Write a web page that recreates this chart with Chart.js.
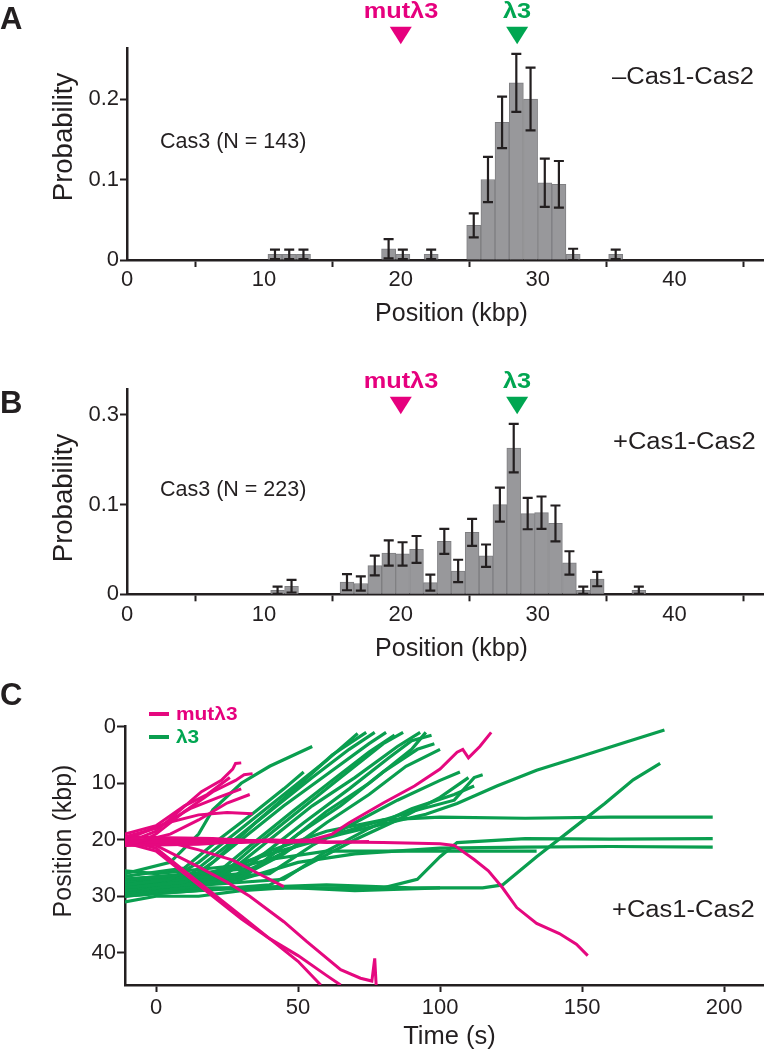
<!DOCTYPE html>
<html lang="en">
<head>
<meta charset="UTF-8">
<title>Cas3 binding positions</title>
<script src="https://cdn.jsdelivr.net/npm/chart.js"></script>
<style>
  body { margin: 0; width: 764px; height: 1050px; position: relative; overflow: hidden; background: #fff;
         font-family: "Liberation Sans", Arial, sans-serif; color: #231f20; }
  canvas { position: absolute; left: 0; }
  .t { position: absolute; line-height: 1; white-space: nowrap; }
  .letter { font-weight: bold; font-size: 31px; }
  .tag { font-weight: bold; font-size: 22px; transform: translateX(-50%) scaleX(1.15); }
  .mut { color: #e6007e; }
  .lam { color: #00a651; }
  .cond { font-size: 23px; transform: scaleX(1.11); transform-origin: left center; }
  .n { font-size: 21.5px; }
  .ytitle { font-size: 27.5px; transform: translate(-50%, -50%) rotate(-90deg); }
  .xtitle { font-size: 25px; transform: translateX(-50%); }
  .leg { font-weight: bold; font-size: 19px; transform: scaleX(1.1); transform-origin: left center; }
  .swatch { position: absolute; width: 20px; height: 4px; }
</style>
</head>
<body>

<canvas id="histA" width="764" height="330" style="top:0px"></canvas>
<canvas id="histB" width="764" height="320" style="top:340px"></canvas>
<canvas id="traces" width="764" height="380" style="top:670px"></canvas>

<!-- panel A text -->
<div class="t letter" style="left:0px;top:2.7px">A</div>
<div class="t tag mut" id="mA0" style="top:0.4px">mutλ3</div>
<div class="t tag lam" id="mA1" style="top:0.4px">λ3</div>
<div class="t cond" style="left:611.7px;top:65.3px">–Cas1-Cas2</div>
<div class="t n" style="left:160px;top:130.5px">Cas3 (N = 143)</div>
<div class="t ytitle" style="left:63px;top:136.7px">Probability</div>
<div class="t xtitle" style="left:451.5px;top:299.7px">Position (kbp)</div>

<!-- panel B text -->
<div class="t letter" style="left:0px;top:386.7px">B</div>
<div class="t tag mut" id="mB0" style="top:370.4px">mutλ3</div>
<div class="t tag lam" id="mB1" style="top:370.4px">λ3</div>
<div class="t cond" style="left:613px;top:430.3px">+Cas1-Cas2</div>
<div class="t n" style="left:160px;top:478.9px">Cas3 (N = 223)</div>
<div class="t ytitle" style="left:63px;top:498px">Probability</div>
<div class="t xtitle" style="left:451.5px;top:634.7px">Position (kbp)</div>

<!-- panel C text -->
<div class="t letter" style="left:0px;top:679px">C</div>
<div class="swatch" style="left:149px;top:712.3px;background:#e5087f"></div>
<div class="t leg mut" style="left:176px;top:703.5px">mutλ3</div>
<div class="swatch" style="left:149px;top:734.7px;background:#0a9e4f"></div>
<div class="t leg lam" style="left:176px;top:726.5px">λ3</div>
<div class="t cond" style="left:611.6px;top:898px">+Cas1-Cas2</div>
<div class="t xtitle" style="left:449.5px;top:1022.7px;font-size:25.5px">Time (s)</div>
<div class="t ytitle" style="left:62px;top:841px;font-size:25px">Position (kbp)</div>

<script>
// histogram bins: centre (kbp), probability, error half-width
const binsA = [10.81, 11.85, 12.89, 19.11, 20.15, 22.22, 25.33, 26.37, 27.40, 28.44, 29.48, 30.52, 31.55, 32.59, 35.70];
const probA = [0.007, 0.007, 0.007, 0.014, 0.007, 0.007, 0.043, 0.100, 0.171, 0.220, 0.200, 0.096, 0.094, 0.007, 0.007];
const errA  = [0.006, 0.006, 0.006, 0.012, 0.006, 0.006, 0.015, 0.028, 0.032, 0.036, 0.039, 0.030, 0.029, 0.007, 0.006];

const binsB = [11.00, 12.02, 16.07, 17.08, 18.10, 19.12, 20.13, 21.15, 22.16, 23.18, 24.19, 25.21, 26.23, 27.24, 28.25, 29.27, 30.28, 31.30, 32.32, 33.33, 34.35, 37.39];
const probB = [0.0045, 0.009, 0.0135, 0.012, 0.032, 0.046, 0.045, 0.050, 0.013, 0.059, 0.026, 0.069, 0.043, 0.100, 0.163, 0.090, 0.091, 0.079, 0.035, 0.0045, 0.017, 0.0045];
const errB  = [0.004, 0.007, 0.009, 0.008, 0.011, 0.014, 0.013, 0.015, 0.009, 0.014, 0.0125, 0.015, 0.0125, 0.019, 0.027, 0.0175, 0.018, 0.020, 0.013, 0.004, 0.008, 0.004];

const xTicksHist = [0, 10, 20, 30, 40];
const yTicksA = [0, 0.1, 0.2];
const yLabelsA = ['0', '0.1', '0.2'];
const yTicksB = [0, 0.1, 0.2];
const yLabelsB = ['0', '0.1', '0.3'];   // printed this way in the figure

// protospacer positions marked with triangles
const markerPos = [20.0, 28.5];
const markerColors = ['#e6007e', '#00a651'];

// panel C traces, [time s, position kbp]
const mutTraces = [
  [[-11,20],[-5,19.5],[0,18.5],[8,15],[16,11.5],[23,9.5],[27,7.5],[28,6.5],[30,6.4]],
  [[-11,21],[-4,20],[0,19],[10,15],[20,11.5],[28,9.5],[31,8.5],[34,8.3]],
  [[-11,19.5],[0,18],[12,14.5],[22,12.5],[30,11]],
  [[-11,19],[0,17.5],[10,14],[18,12],[26,9]],
  [[-11,21],[5,19],[15,16.5],[25,13.5],[33,12]],
  [[-11,20],[4,17],[15,15.6],[25,15.2],[34,15.4]],
  [[-11,21],[15,20.8],[40,20],[60,20.5],[75,20.3]],
  [[-11,19.5],[20,19.8],[45,20.5],[60,20.2]],
  [[-11,20],[20,20],[50,20.3],[80,20.5],[100,20.7],[105,21],[112,23.5],[117,25.5],[122,28.5],[127,32],[134,34.8],[142,36.6],[148,38.5],[152,40.5]],
  [[-11,20.5],[30,20.5],[55,20],[62,19],[68,17],[80,13.5],[91,10.5],[100,7.5],[106,4.5],[108,4],[110,5.5],[114,3.5],[118,1]],
  [[-11,20],[5,20.5],[15,21.8],[27,23.6],[35,25.7],[45,28.3]],
  [[-11,20],[0,21.5],[10,25.5],[20,29.5],[30,33.5],[40,37.5],[50,41.5],[58,45.7]],
  [[-11,20.5],[0,22],[10,26],[20,30],[30,34],[40,37.5],[50,40.5],[60,44],[65,45.7]],
  [[-11,20],[0,21],[15,24.8],[25,27.5],[33,30],[45,34.5],[53,38],[65,43],[72,44.5],[76,45],[77,41],[77.5,45.7]]
];
const lamTraces = [
  [[-11,28],[5,27],[15,24],[30,18],[45,12],[60,6],[71,1.2]],
  [[-11,28.5],[10,27.5],[20,24],[35,17],[50,10.5],[62,5],[74,1]],
  [[-11,29],[10,27],[25,21],[40,15],[55,9],[68,4],[77,1]],
  [[-11,27],[15,26],[30,20],[45,14],[60,8.5],[75,3],[81,1]],
  [[-11,27],[20,26.5],[32,21.5],[48,15],[62,9.5],[75,4.5],[84,1.5]],
  [[-11,29],[20,27.5],[35,21],[50,15],[65,9],[80,3],[87,1]],
  [[-11,28],[25,26],[40,20],[55,14],[70,9],[85,3.5],[93,1]],
  [[-11,30],[30,27],[45,21],[60,15],[75,10],[90,4],[95,1]],
  [[-11,29.5],[25,27.5],[38,22.5],[52,17],[68,11],[82,5.5],[90,2.5],[97,1.5]],
  [[-11,27],[35,25],[50,19],[65,14],[80,8],[92,4],[98,3]],
  [[-11,28],[30,26.5],[45,22.5],[60,17],[75,12],[88,7],[100,4]],
  [[-11,28],[40,26],[55,21],[70,17],[85,13],[100,9.5],[107,8]],
  [[-11,29],[45,27],[60,22],[75,18],[90,14.5],[105,12],[112,10.5]],
  [[-11,30],[40,28],[55,24],[70,20],[85,16.5],[100,12.5],[110,9]],
  [[-11,27.5],[15,26.5],[40,22.5],[65,19],[82,17],[95,15.5],[106,13.6],[120,10.5],[134,7.7],[150,5.2],[165,2.8],[179,0.6]],
  [[-11,28.5],[30,28.5],[60,28],[90,28.5],[115,28.5],[122,28],[134,23],[146,18.3],[158,13.6],[168,9.4],[177.5,6.5]],
  [[-11,29],[20,27],[40,22],[60,18.5],[80,16.5],[100,16],[130,16.2],[160,16],[196,16]],
  [[-11,28],[30,27],[50,24],[70,22.5],[100,21.5],[130,21.3],[160,21.2],[196,21.3]],
  [[-11,29],[40,28.5],[80,28.5],[92,27],[100,23],[106,20.5],[130,19.8],[160,19.9],[196,19.8]],
  [[-11,27],[20,26],[40,23.5],[60,22],[100,22],[134,22]],
  [[-11,30],[0,29.5],[15,29],[30,28.5],[50,28.5],[70,29],[100,28.5]],
  [[-11,26],[5,24],[15,19],[20,14.7],[30,10],[40,7],[55,3.5]],
  [[-11,26.5],[10,25],[22,20],[35,15],[45,11],[52,8]],
  [[-11,28],[30,26],[50,21],[70,18],[90,15],[105,13],[112,9],[115,8.5]],
  [[-11,31],[0,30],[15,30],[30,29],[45,28.5]],
  [[-11,25.5],[0,26],[10,25.5],[20,25],[30,24.5]]
];
const xTicksC = [0, 50, 100, 150, 200];
const yTicksC = [0, 10, 20, 30, 40];

const ink = '#231f20';
const tickFont = { family: 'Liberation Sans', size: 22 };

const errorBars = {
  id: 'errorBars',
  afterDatasetsDraw(chart) {
    const ds = chart.data.datasets[0], xs = chart.scales.x, ys = chart.scales.y, ctx = chart.ctx;
    ctx.save();
    ctx.strokeStyle = ink;
    ctx.lineWidth = 2.2;
    ds.data.forEach((p, i) => {
      const x = xs.getPixelForValue(p.x);
      const y1 = ys.getPixelForValue(p.y + ds.errs[i]);
      const y2 = ys.getPixelForValue(Math.max(p.y - ds.errs[i], 0));
      ctx.beginPath();
      ctx.moveTo(x, y1); ctx.lineTo(x, y2);
      ctx.moveTo(x - 5, y1); ctx.lineTo(x + 5, y1);
      ctx.moveTo(x - 5, y2); ctx.lineTo(x + 5, y2);
      ctx.stroke();
    });
    ctx.restore();
  }
};

const markers = {
  id: 'markers',
  afterDraw(chart, args, opts) {
    const ctx = chart.ctx, xs = chart.scales.x;
    markerPos.forEach((p, i) => {
      const x = xs.getPixelForValue(p);
      ctx.fillStyle = markerColors[i];
      ctx.beginPath();
      ctx.moveTo(x - 11, opts.top);
      ctx.lineTo(x + 11, opts.top);
      ctx.lineTo(x, opts.bottom);
      ctx.closePath();
      ctx.fill();
    });
  }
};

function axisStyle(tickLen) {
  return {
    grid: { display: true, drawOnChartArea: false, drawTicks: true, tickLength: tickLen, tickWidth: 2, tickColor: ink, color: ink },
    border: { display: true, color: ink, width: 2.5 }
  };
}

function histChart(id, bins, prob, err, yTicks, yLabels, yMax, padTop, xHeight, tri) {
  return new Chart(document.getElementById(id), {
    type: 'bar',
    data: {
      datasets: [{
        data: bins.map((b, i) => ({ x: b, y: prob[i] })),
        errs: err,
        backgroundColor: '#98989b',
        borderColor: '#7f7f82',
        borderWidth: 1,
        barPercentage: 1,
        categoryPercentage: 1
      }]
    },
    options: {
      responsive: false, animation: false, devicePixelRatio: 1,
      layout: { padding: { top: padTop, right: 1, left: 0, bottom: 0 } },
      plugins: { legend: { display: false }, tooltip: { enabled: false }, markers: tri },
      scales: {
        x: Object.assign({
          type: 'linear', min: 0, max: 46.46, offset: false,
          afterBuildTicks: s => { s.ticks = xTicksHist.map(v => ({ value: v })); },
          afterFit: s => { s.height = xHeight; },
          ticks: { font: tickFont, color: ink, padding: 0, maxRotation: 0 }
        }, axisStyle(7)),
        y: Object.assign({
          min: 0, max: yMax,
          afterBuildTicks: s => { s.ticks = yTicks.map(v => ({ value: v })); },
          afterFit: s => { s.width = 127; },
          ticks: { font: tickFont, color: ink, padding: 1, callback: (v, i) => yLabels[i] }
        }, axisStyle(7))
      }
    },
    plugins: [errorBars, markers]
  });
}

const chartA = histChart('histA', binsA, probA, errA, yTicksA, yLabelsA, 0.263, 48.3, 70, { top: 26.7, bottom: 44.3 });
const chartB = histChart('histB', binsB, probB, errB, yTicksB, yLabelsB, 0.2285, 49.3, 65.7, { top: 56.7, bottom: 74.3 });

// place marker labels over their triangles
[['mA0', chartA, 0], ['mA1', chartA, 1], ['mB0', chartB, 0], ['mB1', chartB, 1]].forEach(([id, ch, i]) => {
  document.getElementById(id).style.left = ch.scales.x.getPixelForValue(markerPos[i]) + 'px';
});

const traceSets = mutTraces.map(tr => ({
  data: tr.map(p => ({ x: p[0], y: p[1] })), borderColor: '#e5087f', borderWidth: 3
})).concat(lamTraces.map(tr => ({
  data: tr.map(p => ({ x: p[0], y: p[1] })), borderColor: '#0a9e4f', borderWidth: 3.2
})));

new Chart(document.getElementById('traces'), {
  type: 'line',
  data: { datasets: traceSets },
  options: {
    responsive: false, animation: false, devicePixelRatio: 1,
    elements: { point: { radius: 0 }, line: { tension: 0, fill: false } },
    layout: { padding: { top: 56.7, right: 1, left: 0, bottom: 0 } },
    plugins: { legend: { display: false }, tooltip: { enabled: false } },
    scales: {
      x: Object.assign({
        type: 'linear', min: -10.92, max: 213.7,
        afterBuildTicks: s => { s.ticks = xTicksC.map(v => ({ value: v })); },
        afterFit: s => { s.height = 65; },
        ticks: { font: tickFont, color: ink, padding: 3, maxRotation: 0 }
      }, axisStyle(7)),
      y: Object.assign({
        type: 'linear', reverse: true, min: 0, max: 45.7,
        afterBuildTicks: s => { s.ticks = yTicksC.map(v => ({ value: v })); },
        afterFit: s => { s.width = 125; },
        ticks: { font: tickFont, color: ink, padding: 1 }
      }, axisStyle(8))
    }
  }
});
</script>
</body>
</html>
